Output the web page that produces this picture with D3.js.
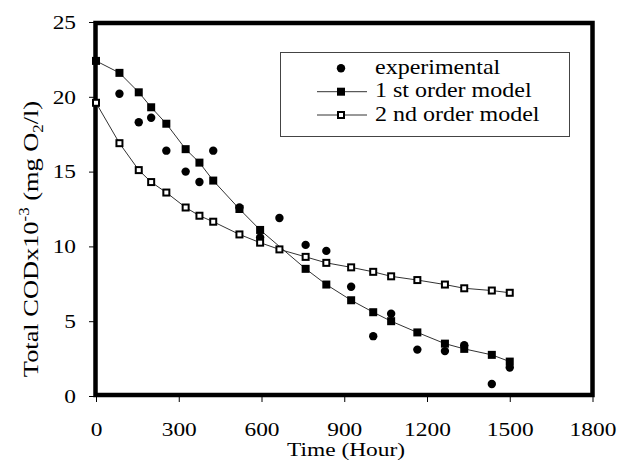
<!DOCTYPE html>
<html>
<head>
<meta charset="utf-8">
<script src="https://cdn.jsdelivr.net/npm/d3@7"></script>
<style>
  body { margin: 0; background: #fff; }
  svg { display: block; font-family: "Liberation Serif", "Times New Roman", serif; }
</style>
</head>
<body>
<div id="chart"></div>
<script>
// data (time in hours, total COD x10^-3 mg O2/l)
const expTime = [85, 155, 200, 255, 325, 375, 425, 520, 595, 665, 760, 835, 925, 1005, 1070, 1165, 1265, 1335, 1435, 1500];
const expCod = [20.2, 18.3, 18.6, 16.4, 15.0, 14.3, 16.4, 12.6, 10.6, 11.9, 10.1, 9.7, 7.3, 4.0, 5.5, 3.1, 3.0, 3.4, 0.8, 1.9];

const firstTime = [0, 85, 155, 200, 255, 325, 375, 425, 520, 595, 760, 835, 925, 1005, 1070, 1165, 1265, 1335, 1435, 1500];
const firstCod = [22.4, 21.6, 20.3, 19.3, 18.2, 16.5, 15.6, 14.4, 12.5, 11.1, 8.5, 7.45, 6.4, 5.6, 5.0, 4.25, 3.5, 3.15, 2.75, 2.3];

const secondTime = [0, 85, 155, 200, 255, 325, 375, 425, 520, 595, 665, 760, 835, 925, 1005, 1070, 1165, 1265, 1335, 1435, 1500];
const secondCod = [19.6, 16.9, 15.1, 14.3, 13.6, 12.6, 12.05, 11.65, 10.8, 10.25, 9.8, 9.3, 8.9, 8.6, 8.3, 8.0, 7.75, 7.45, 7.2, 7.05, 6.9];

const xTicks = [0, 300, 600, 900, 1200, 1500, 1800];
const yTicks = [0, 5, 10, 15, 20, 25];
const legendLabels = ['experimental', '1 st order model', '2 nd order model'];

// canvas
const W = 619, H = 460;
const SX = 1.2; // glyphs in the picture are a bit wide
const FS = 19.5;

const svg = d3.select('#chart').append('svg')
  .attr('width', W)
  .attr('height', H);

const x = d3.scaleLinear().domain([0, 1800]).range([96, 592.5]);
const y = d3.scaleLinear().domain([0, 25]).range([396, 22]);

// axes (ticks + labels)
const xAxis = svg.append('g')
  .attr('transform', 'translate(0,' + y(0) + ')')
  .call(d3.axisBottom(x).tickValues(xTicks).tickSize(6).tickPadding(20).tickFormat(d3.format('d')));
const yAxis = svg.append('g')
  .attr('transform', 'translate(' + x(0) + ',0)')
  .call(d3.axisLeft(y).tickValues(yTicks).tickSize(7).tickPadding(13));

[xAxis, yAxis].forEach(g => {
  g.select('.domain').remove();
  g.selectAll('.tick line').attr('stroke', '#000').attr('stroke-width', 1);
  g.selectAll('.tick text')
    .attr('font-family', '"Liberation Serif", serif')
    .attr('font-size', FS)
    .attr('fill', '#000');
});
yAxis.selectAll('.tick text')
  .attr('x', -20 / SX)
  .attr('transform', 'scale(' + SX + ',1)');
xAxis.selectAll('.tick text')
  .attr('transform', 'scale(' + SX + ',1)');

// frame
svg.append('rect')
  .attr('x', 95.5)
  .attr('y', 23)
  .attr('width', 497)
  .attr('height', 372)
  .attr('fill', 'none')
  .attr('stroke', '#000')
  .attr('stroke-width', 4.5);

// axis titles
svg.append('text')
  .attr('transform', 'translate(346,455.5) scale(' + SX + ',1)')
  .attr('text-anchor', 'middle')
  .attr('font-size', FS)
  .text('Time (Hour)');

const yt = svg.append('text')
  .attr('transform', 'translate(38,239) rotate(-90) scale(' + SX + ',1)')
  .attr('text-anchor', 'middle')
  .attr('font-size', 22);
yt.append('tspan').text('Total CODx10');
yt.append('tspan').attr('font-size', 14).attr('dy', -9).text('-3');
yt.append('tspan').attr('dy', 9).text(' (mg O');
yt.append('tspan').attr('font-size', 14).attr('dy', 5).text('2');
yt.append('tspan').attr('dy', -5).text('/l)');

// markers
function circle (g, cx, cy) {
  g.append('circle').attr('cx', cx).attr('cy', cy).attr('r', 4.2).attr('fill', '#000');
}
function filledSquare (g, cx, cy) {
  g.append('rect').attr('x', cx - 4).attr('y', cy - 4).attr('width', 8).attr('height', 8).attr('fill', '#000');
}
function openSquare (g, cx, cy) {
  g.append('rect').attr('x', cx - 3).attr('y', cy - 3).attr('width', 6).attr('height', 6)
    .attr('fill', '#fff').attr('stroke', '#000').attr('stroke-width', 2);
}

const line = d3.line().x(d => x(d[0])).y(d => y(d[1]));
const first = firstTime.map((t, i) => [t, firstCod[i]]);
const second = secondTime.map((t, i) => [t, secondCod[i]]);

const plot = svg.append('g');
plot.append('path').datum(first).attr('d', line)
  .attr('fill', 'none').attr('stroke', '#333').attr('stroke-width', 1);
plot.append('path').datum(second).attr('d', line)
  .attr('fill', 'none').attr('stroke', '#333').attr('stroke-width', 1);

expTime.forEach((t, i) => circle(plot, x(t), y(expCod[i])));
first.forEach(d => filledSquare(plot, x(d[0]), y(d[1])));
second.forEach(d => openSquare(plot, x(d[0]), y(d[1])));

// legend
const lg = svg.append('g');
lg.append('rect')
  .attr('x', 280.5).attr('y', 52.5).attr('width', 289).attr('height', 84)
  .attr('fill', '#fff').attr('stroke', '#444').attr('stroke-width', 1);

const rowY = [68.3, 91.7, 115];
legendLabels.forEach((lab, i) => {
  const cy = rowY[i];
  if (i == 0) circle(lg, 341, cy);
  else {
    lg.append('line').attr('x1', 317).attr('x2', 367).attr('y1', cy).attr('y2', cy)
      .attr('stroke', '#333').attr('stroke-width', 1);
    if (i == 1) filledSquare(lg, 341, cy);
    else openSquare(lg, 341, cy);
  }
  lg.append('text')
    .attr('transform', 'translate(375,' + (cy + 5.5) + ') scale(' + SX + ',1)')
    .attr('font-size', 20)
    .text(lab);
});
</script>
</body>
</html>
